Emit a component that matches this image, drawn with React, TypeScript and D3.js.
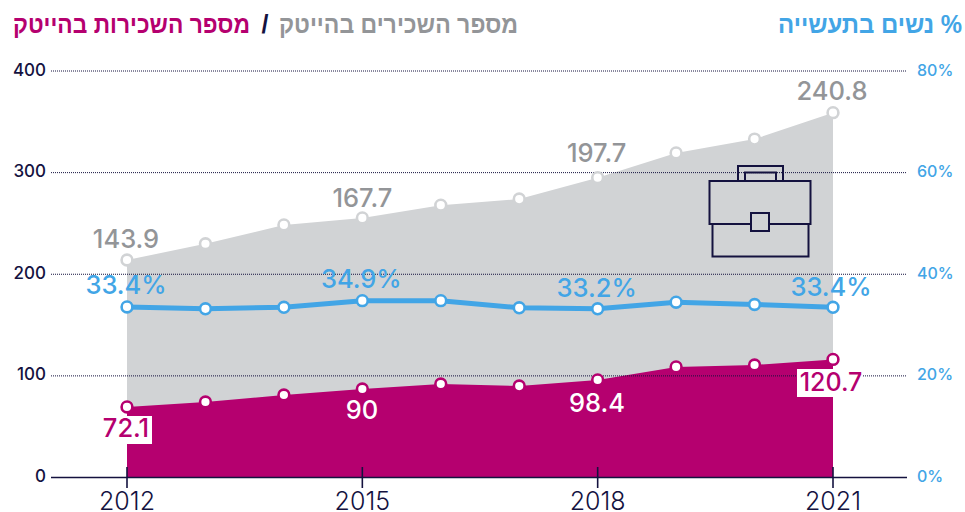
import React from "react";
import * as d3 from "d3";

const years = [2012, 2013, 2014, 2015, 2016, 2017, 2018, 2019, 2020, 2021];
const employeesTop = [214, 230, 248.5, 255.4, 268, 274, 295, 319.4, 333, 359];
const hires = [69.4, 74.3, 81.2, 87.1, 92, 90, 96, 108.8, 110.7, 116.2];
const womenPct = [33.56, 33.2, 33.5, 34.8, 34.8, 33.4, 33.2, 34.5, 34.05, 33.5];
const leftTicks = [0, 100, 200, 300, 400];
const rightTicks = [0, 20, 40, 60, 80];
const xTickYears = [2012, 2015, 2018, 2021];
const grayLabels = [
  { year: 2012, text: "143.9", dx: -1, y: 248 },
  { year: 2015, text: "167.7", dx: 0, y: 207 },
  { year: 2018, text: "197.7", dx: -1, y: 162 },
  { year: 2021, text: "240.8", dx: -1, y: 100 },
];
const blueLabels = [
  { year: 2012, text: "33.4%", dx: -1, y: 294 },
  { year: 2015, text: "34.9%", dx: -1, y: 288 },
  { year: 2018, text: "33.2%", dx: -1, y: 297 },
  { year: 2021, text: "33.4%", dx: -2, y: 296 },
];

const NAVY = "#14123f";
const MAGENTA = "#b5006f";
const BLUE = "#42a5e6";
const GRAY = "#939598";
const AREA = "#d1d3d5";
const RING = "#d1d3d5";
const FONT = "Inter, 'Noto Sans', sans-serif";
const HEB = "'Liberation Sans', 'DejaVu Sans', sans-serif";

const x = d3.scaleLinear().domain([2012, 2021]).range([127, 833]);
const y = d3.scaleLinear().domain([0, 400]).range([477.5, 71]);
const yPct = d3.scaleLinear().domain([0, 80]).range([477.5, 71]);

export default function App() {
  const area = d3.area<number>().x((_, i) => x(years[i])).y0(y(0)).y1((d) => y(d));
  const line = d3.line<number>().x((_, i) => x(years[i])).y((d) => yPct(d));
  const heb = { fontFamily: HEB, fontWeight: 700, fontSize: 25, lengthAdjust: "spacingAndGlyphs" as const, direction: "rtl" as const };
  return (
    <svg width={965} height={512} style={{ position: "absolute", left: 0, top: 0, fontFamily: FONT }}>
      <path d={area(employeesTop) ?? ""} fill={AREA} />
      <path d={area(hires) ?? ""} fill={MAGENTA} />

      {leftTicks.filter((t) => t > 0).map((t) => (
        <line key={t} x1={51} x2={907} y1={y(t)} y2={y(t)} stroke={NAVY} strokeWidth={1} strokeDasharray="1 1" />
      ))}
      <line x1={51} x2={907} y1={y(0)} y2={y(0)} stroke={NAVY} strokeWidth={1.3} />
      {xTickYears.map((t) => (
        <g key={t}>
          <line x1={x(t)} x2={x(t)} y1={467} y2={488} stroke={NAVY} strokeWidth={1.6} />
          <text x={x(t)} y={510} textAnchor="middle" fontSize={25} fill={NAVY} fontWeight={300}>{t}</text>
        </g>
      ))}
      {leftTicks.map((t) => (
        <text key={t} x={46} y={y(t) + 4.5} textAnchor="end" fontSize={17} fill={NAVY} fontWeight={500}>{t}</text>
      ))}
      {rightTicks.map((t) => (
        <text key={t} x={917} y={yPct(t) + 4.5} fontSize={16} fill={BLUE} fontWeight={500}>{t}%</text>
      ))}

      {/* briefcase */}
      <g fill="none" stroke={NAVY} strokeWidth={2}>
        <rect x={738} y={166} width={45} height={15} />
        <rect x={745} y={172.5} width={31} height={8.5} />
        <rect x={709.5} y={181} width={101} height={43} />
        <rect x={712.5} y={224} width={96} height={32.5} />
        <rect x={751} y={213} width={18} height={18} fill={AREA} />
      </g>

      {hires.map((d, i) => (
        <circle key={i} cx={x(years[i])} cy={y(d)} r={5.4} fill="#fff" stroke={MAGENTA} strokeWidth={2.6} />
      ))}
      {employeesTop.map((d, i) => (
        <circle key={i} cx={x(years[i])} cy={y(d)} r={5.4} fill="#fff" stroke={RING} strokeWidth={2.6} />
      ))}
      <path d={line(womenPct) ?? ""} fill="none" stroke={BLUE} strokeWidth={5} />
      {womenPct.map((d, i) => (
        <circle key={i} cx={x(years[i])} cy={yPct(d)} r={5.4} fill="#fff" stroke={BLUE} strokeWidth={2.6} />
      ))}

      {grayLabels.map((l) => (
        <text key={l.text} x={x(l.year) + l.dx} y={l.y} textAnchor="middle" fontSize={25.5} fill={GRAY} fontWeight={500}>{l.text}</text>
      ))}
      {blueLabels.map((l) => (
        <text key={l.text + l.year} x={x(l.year) + l.dx} y={l.y} textAnchor="middle" fontSize={25.5} fill={BLUE} fontWeight={500}>{l.text}</text>
      ))}

      <rect x={100} y={416} width={52} height={28} fill="#fff" />
      <text x={126} y={437} textAnchor="middle" fontSize={25.5} fill={MAGENTA} fontWeight={500}>72.1</text>
      <rect x={797} y={369} width={66} height={28} fill="#fff" />
      <text x={831} y={391} textAnchor="middle" fontSize={25} fill={MAGENTA} fontWeight={500}>120.7</text>
      <text x={362} y={419} textAnchor="middle" fontSize={25.5} fill="#fff" fontWeight={500}>90</text>
      <text x={597} y={412} textAnchor="middle" fontSize={25.5} fill="#fff" fontWeight={500}>98.4</text>

      {/* titles */}
      <text x={131.5} y={33} textAnchor="middle" textLength={237} {...heb} fill={MAGENTA}>מספר השכירות בהייטק</text>
      <text x={265} y={33} textAnchor="middle" fontFamily={HEB} fontWeight={700} fontSize={25} fill={NAVY}>/</text>
      <text x={398.5} y={33} textAnchor="middle" textLength={239} {...heb} fill={GRAY}>מספר השכירים בהייטק</text>
      <text x={870} y={33} textAnchor="middle" textLength={184} {...heb} fill={BLUE}>% נשים בתעשייה</text>
    </svg>
  );
}
